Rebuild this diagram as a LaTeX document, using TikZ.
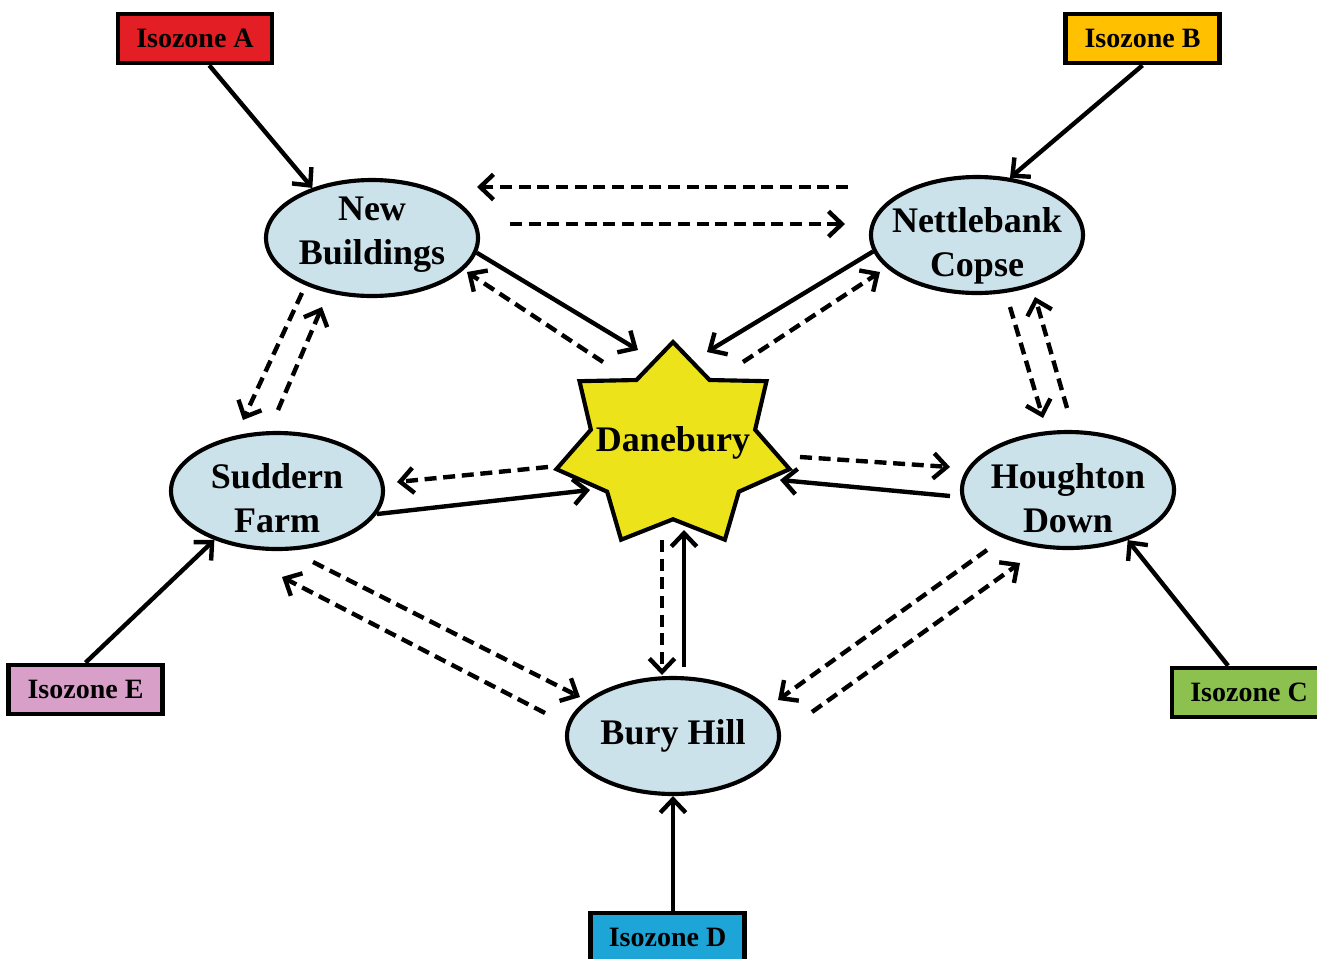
\documentclass[tikz,border=0pt]{standalone}
\usepackage{fontspec}
\setmainfont{Liberation Serif}
\usepackage{tikz}
\usetikzlibrary{shapes.geometric,arrows.meta,calc}
\definecolor{siteblue}{RGB}{204,226,234}
\definecolor{danyellow}{RGB}{237,227,27}
\definecolor{zonered}{RGB}{227,30,36}
\definecolor{zoneorange}{RGB}{255,192,0}
\definecolor{zonegreen}{RGB}{141,193,79}
\definecolor{zoneblue}{RGB}{30,165,215}
\definecolor{zonepink}{RGB}{216,160,200}
\newcommand{\sitefont}{\fontsize{27}{33}\selectfont\bfseries}
\newcommand{\zonefont}{\fontsize{21}{25}\selectfont\bfseries}
\tikzstyle{site}=[
  ellipse,draw,line width=3.1pt,fill=siteblue,minimum width=159pt,
  minimum height=87pt,inner sep=0pt
]
\tikzstyle{sitename}=[
  align=center,font=\sitefont,inner sep=0pt
]
\tikzstyle{zone}=[
  rectangle,draw,line width=3.5pt,minimum width=115.5pt,minimum height=36.75pt,
  inner sep=0pt,font=\zonefont
]
\tikzstyle{solidarr}=[->,line width=3.3pt]
\tikzstyle{dasharr}=[->,line width=3.3pt,dash pattern=on 9pt off 5pt]

\begin{document}
\begin{tikzpicture}[x=0.75pt,y=-0.75pt,>={Straight Barb[length=10pt,width=19pt]}]
    \useasboundingbox (0,0) rectangle (1317,958);
    % Danebury
    \begin{scope}[shift={(673,446)},xscale=1.15]
    \node[star,star points=7,star point ratio=1.42,minimum size=156pt,inner sep=0pt,
          draw,line width=3.1pt,fill=danyellow,transform shape] (dan) at (0,0) {};
    \end{scope}
    \node[sitename] (danname) at ($(dan)+(0,-3)$) {Danebury};
    % sites
    \node[site] (nb) at (372,238) {};
    \node[site] (nc) at (977,235) {};
    \node[site] (sf) at (277,491) {};
    \node[site] (hd) at (1068,490) {};
    \node[site] (bh) at (673,736) {};
    \node[sitename] (nbname) at ($(nb)+(0,-3)$) {New\\Buildings};
    \node[sitename] (ncname) at ($(nc)+(0,11)$) {Nettlebank\\Copse};
    \node[sitename] (sfname) at ($(sf)+(0,7)$) {Suddern\\Farm};
    \node[sitename] (hdname) at ($(hd)+(0,8)$) {Houghton\\Down};
    \node[sitename] (bhname) at (bh) {Bury Hill};
    % isozones
    \node[zone,fill=zonered] (isoA) at (195,38.5) {Isozone A};
    \node[zone,fill=zoneorange] (isoB) at (1142.5,38.5) {Isozone B};
    \node[zone,fill=zonegreen] (isoC) at (1249,692.5) {Isozone C};
    \node[zone,fill=zoneblue] (isoD) at (667.5,937.5) {Isozone D};
    \node[zone,fill=zonepink] (isoE) at (85.5,689.5) {Isozone E};
    % isozones to sites
    \draw[solidarr] (isoA.-62) -- (nb.140);
    \draw[solidarr] (isoB.south) -- (nc.60);
    \draw[solidarr] (isoC.128) -- (hd.-40);
    \draw[solidarr] (bh.south |- isoD.north) -- (bh.south);
    \draw[solidarr] (isoE.north) -- (sf.-142);
    % sites to Danebury
    \draw[solidarr] (nb.-8) -- ($(dan)+(-35,-96)$);
    \draw[solidarr] (nc.189) -- ($(dan)+(34,-94)$);
    \draw[solidarr] (sf.-13) -- ($(dan)+(-83,44)$);
    \draw[solidarr] ($(hd)+(-118,6)$) -- ($(dan)+(107,34)$);
    \draw[solidarr] ($(bh)+(11,-69)$) -- ($(dan)+(11,84)$);
    % Danebury to sites
    \draw[dasharr] ($(dan)+(-70,-84)$) -- ($(nb)+(95,34)$);
    \draw[dasharr] ($(dan)+(70,-84)$) -- ($(nc)+(-97,37)$);
    \draw[dasharr] ($(dan)+(-125,21)$) -- ($(sf)+(120,-9)$);
    \draw[dasharr] ($(dan)+(127,11)$) -- ($(hd)+(-118,-23)$);
    \draw[dasharr] ($(dan)+(-11,94)$) -- ($(bh)+(-11,-61)$);
    % between sites
    \draw[dasharr] ($(nc)+(-129,-48)$) -- ($(nb)+(105,-51)$);
    \draw[dasharr] ($(nb)+(138,-14)$) -- ($(nc)+(-132,-11)$);
    \draw[dasharr] ($(nb)+(-70,55)$) -- ($(sf)+(-34,-71)$);
    \draw[dasharr] ($(sf)+(1,-81)$) -- ($(nb)+(-50,69)$);
    \draw[dasharr] ($(nc)+(33,72)$) -- ($(hd)+(-25,-72)$);
    \draw[dasharr] ($(hd)+(-1,-82)$) -- ($(nc)+(58,62)$);
    \draw[dasharr] ($(sf)+(36,71)$) -- ($(bh)+(-93,-39)$);
    \draw[dasharr] ($(bh)+(-128,-23)$) -- ($(sf)+(5,86)$);
    \draw[dasharr] ($(hd)+(-81,60)$) -- ($(bh)+(105,-36)$);
    \draw[dasharr] ($(bh)+(139,-24)$) -- ($(hd)+(-48,73)$);
\end{tikzpicture}
\end{document}
